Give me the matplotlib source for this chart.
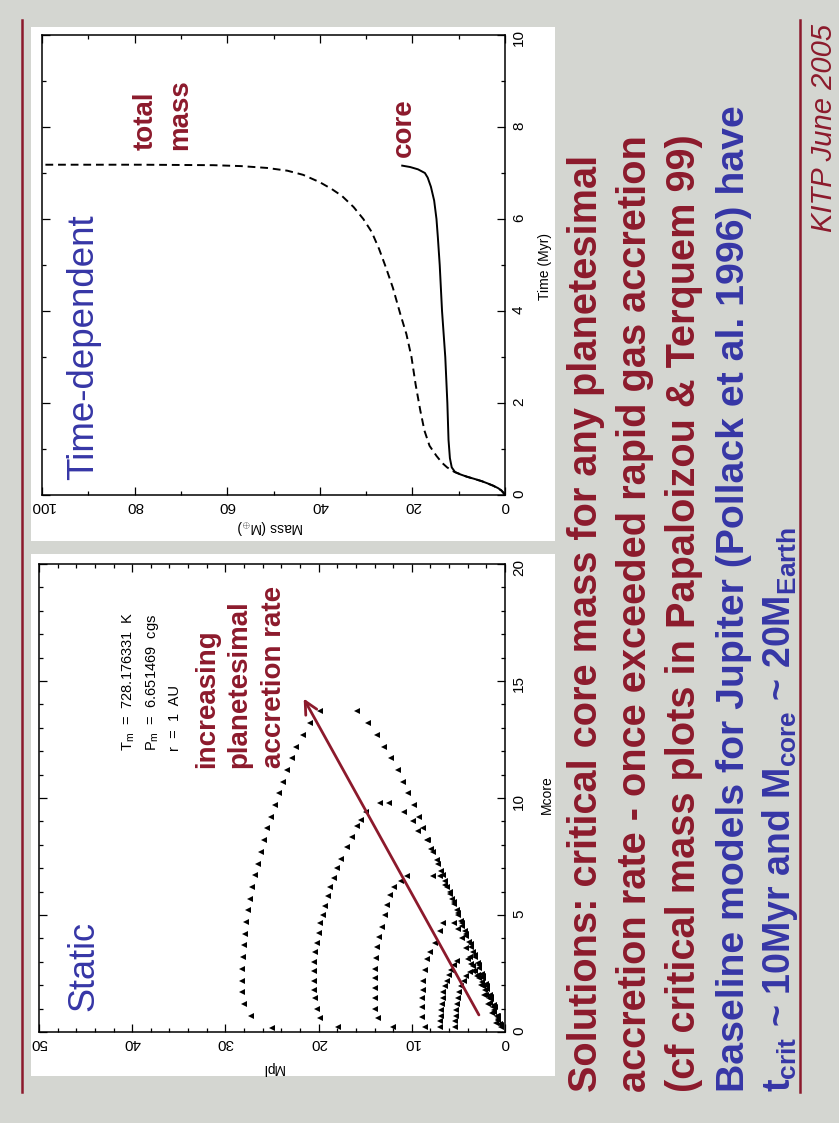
import matplotlib
matplotlib.use("Agg")
import matplotlib.pyplot as plt
from matplotlib.patches import Rectangle
from matplotlib.lines import Line2D

W, H = 839, 1123
plt.rcParams['font.family'] = ['Liberation Sans', 'DejaVu Sans']
plt.rcParams['mathtext.fontset'] = 'custom'
plt.rcParams['mathtext.rm'] = 'Liberation Sans'
plt.rcParams['mathtext.it'] = 'Liberation Sans:italic'
plt.rcParams['mathtext.bf'] = 'Liberation Sans:bold'

BG = '#d4d6d1'
RED = '#8c1a2c'
BLUE = '#3636a6'

# ---- time-dependent model (Myr, Earth masses)
time_core = [0, 0.05, 0.1, 0.15, 0.2, 0.25, 0.3, 0.35, 0.4, 0.45, 0.5, 0.6, 0.8, 1.2,
             2.0, 3.0, 4.0, 5.0, 5.6, 6.0, 6.4, 6.7, 6.9, 7.0, 7.08, 7.13, 7.16]
mass_core = [0, 0.3, 0.8, 1.5, 2.5, 3.7, 5.0, 6.6, 8.3, 9.7, 10.8, 11.5, 11.9, 12.2,
             12.45, 12.9, 13.6, 14.1, 14.5, 14.8, 15.3, 16.0, 16.7, 17.3, 18.8, 20.5, 22.2]
time_total = [0, 0.1, 0.2, 0.3, 0.4, 0.5, 0.6, 0.7, 0.85, 1.07, 1.4, 1.84, 2.4, 3.0, 3.5,
              3.93, 4.5, 4.94, 5.35, 5.72, 6.0, 6.26, 6.5, 6.65, 6.8, 6.96, 7.05, 7.11,
              7.15, 7.17, 7.18, 7.18]
mass_total = [0, 0.8, 2.5, 5.0, 8.3, 10.9, 12.5, 13.6, 14.8, 16.3, 17.4, 18.3, 19.3, 20.2,
              21.3, 22.6, 24.2, 25.7, 27.2, 28.8, 30.6, 32.7, 35.2, 37.4, 40.0, 43.6, 47.0,
              51.4, 57.0, 63.0, 78.6, 100.0]

# ---- static models: (Mpl, Mcore) for each accretion rate
mpl_1 = [25.0, 27.3, 28.0, 28.2, 28.2, 28.2, 28.15, 28.0, 27.9, 27.8, 27.6, 27.4, 27.1, 26.8,
         26.5, 26.2, 25.9, 25.5, 25.1, 24.7, 24.2, 23.8, 23.4, 22.9, 22.4, 21.7, 20.9, 19.9,
         15.9, 14.65, 13.7, 13.0, 12.25, 11.5, 10.9, 10.4, 9.75, 9.2, 8.75, 8.3, 7.7, 7.15,
         6.7, 6.2, 5.7, 5.2, 4.75, 4.3, 3.85, 3.4, 2.95, 2.5, 2.05, 1.6, 1.2, 0.8, 0.4]
mcore_1 = [0.16, 0.7, 1.2, 1.7, 2.2, 2.7, 3.2, 3.7, 4.2, 4.7, 5.2, 5.7, 6.2, 6.7,
           7.2, 7.7, 8.2, 8.7, 9.2, 9.7, 10.2, 10.7, 11.2, 11.7, 12.2, 12.7, 13.2, 13.7,
           13.7, 13.2, 12.7, 12.2, 11.7, 11.2, 10.7, 10.2, 9.7, 9.2, 8.7, 8.2, 7.7, 7.2,
           6.7, 6.2, 5.7, 5.2, 4.75, 4.3, 3.85, 3.4, 2.95, 2.5, 2.05, 1.6, 1.15, 0.7, 0.3]
mpl_2 = [17.9, 19.8, 20.2, 20.4, 20.5, 20.5, 20.5, 20.45, 20.35, 20.2, 20.0, 19.8, 19.55,
         19.3, 19.0, 18.75, 18.4, 18.0, 17.6, 17.0, 16.4, 15.9, 15.5, 14.9,
         13.4, 12.4, 10.8, 9.9, 9.3, 8.4, 7.9, 7.3, 6.85, 6.4, 5.95, 5.5, 5.05, 4.6, 4.15,
         3.7, 3.25, 2.8, 2.35, 1.9, 1.5, 1.1, 0.7]
mcore_2 = [0.23, 0.6, 1.0, 1.45, 1.8, 2.2, 2.6, 3.0, 3.4, 3.8, 4.25, 4.65, 5.0,
           5.4, 5.8, 6.2, 6.6, 7.0, 7.4, 7.9, 8.35, 8.8, 9.05, 9.4,
           9.8, 9.8, 9.4, 9.0, 8.6, 8.2, 7.8, 7.35, 6.9, 6.45, 6.0, 5.55, 5.1, 4.65, 4.2,
           3.75, 3.3, 2.85, 2.4, 1.95, 1.5, 1.05, 0.6]
mpl_3 = [12.0, 13.6, 13.9, 14.0, 14.0, 14.0, 13.9, 13.8, 13.7, 13.5, 13.2, 12.9, 12.7, 12.3,
         11.9, 11.2, 10.5,
         7.7, 7.0, 6.4, 5.95, 5.5, 5.05, 4.6, 4.15, 3.7, 3.25, 2.8, 2.35, 1.95, 1.55, 1.15, 0.75]
mcore_3 = [0.23, 0.58, 1.0, 1.44, 1.87, 2.3, 2.7, 3.15, 3.65, 4.07, 4.5, 5.0, 5.43, 5.85,
           6.2, 6.45, 6.65,
           6.67, 6.67, 6.3, 5.9, 5.45, 5.0, 4.55, 4.1, 3.65, 3.2, 2.75, 2.3, 1.85, 1.4, 0.95, 0.5]
mpl_4 = [8.6, 8.9, 8.9, 8.9, 8.85, 8.75, 8.6, 8.4, 8.0, 7.5, 7.0, 6.6,
         5.5, 5.0, 4.6, 4.2, 3.8, 3.4, 3.0, 2.6, 2.2, 1.8, 1.4, 1.0]
mcore_4 = [0.23, 0.65, 1.08, 1.44, 1.8, 2.2, 2.65, 3.1, 3.4, 3.8, 4.3, 4.65,
           4.65, 4.4, 4.0, 3.6, 3.2, 2.8, 2.4, 2.0, 1.6, 1.2, 0.8, 0.4]
mpl_5 = [7.0, 6.95, 6.9, 6.85, 6.8, 6.7, 6.6, 6.45, 6.25, 6.05, 5.8, 5.5, 5.1,
         4.0, 3.6, 3.2, 2.8, 2.4, 2.0, 1.6, 1.2, 0.8, 0.4]
mcore_5 = [0.2, 0.45, 0.7, 0.95, 1.2, 1.45, 1.7, 1.95, 2.2, 2.45, 2.65, 2.85, 3.05,
           3.1, 2.9, 2.6, 2.3, 1.95, 1.6, 1.25, 0.85, 0.5, 0.2]
mpl_6 = [5.4, 5.35, 5.3, 5.25, 5.15, 5.05, 4.9, 4.7, 4.45, 4.15, 3.8, 3.4,
         2.9, 2.5, 2.1, 1.7, 1.3, 0.9, 0.5]
mcore_6 = [0.2, 0.45, 0.7, 0.95, 1.2, 1.45, 1.7, 1.95, 2.2, 2.4, 2.55, 2.6,
           2.45, 2.15, 1.8, 1.45, 1.05, 0.7, 0.35]
static_mpl = [mpl_1, mpl_2, mpl_3, mpl_4, mpl_5, mpl_6]
static_mcore = [mcore_1, mcore_2, mcore_3, mcore_4, mcore_5, mcore_6]

arrow_tail = (2.8, 0.73)
arrow_head = (21.6, 14.25)


def fx(x):
    return x / W


def fy(y):
    return 1 - y / H


fig = plt.figure(figsize=(W / 100, H / 100), dpi=100, facecolor=BG)

# white panels and red rules
for y0, y1 in [(27, 541), (554, 1076)]:
    fig.add_artist(Rectangle((fx(31), fy(y1)), (555 - 31) / W, (y1 - y0) / H,
                             transform=fig.transFigure, facecolor='white',
                             edgecolor='none', zorder=0))
for x in [21.5, 800]:
    fig.add_artist(Line2D([fx(x), fx(x)], [fy(20), fy(1092)], transform=fig.transFigure,
                          color=RED, lw=1.8))


def style_axes(ax):
    ax.tick_params(which='both', direction='in', top=True, bottom=True, left=True,
                   right=True, labelleft=False, labelright=True, labelbottom=True,
                   width=0.9, colors='black')
    ax.tick_params(which='major', length=6)
    ax.tick_params(which='minor', length=3)
    ax.tick_params(axis='x', labelrotation=180, labelsize=11, pad=3)
    ax.tick_params(axis='y', labelrotation=90, labelsize=11, pad=5)
    for s in ax.spines.values():
        s.set_linewidth(1.1)


# ---- top panel: time-dependent
ax1 = fig.add_axes([fx(42), fy(495), (505 - 42) / W, (495 - 35) / H])
ax1.plot(mass_total, time_total, color='black', lw=1.4, ls=(0, (4, 2.5)))
ax1.plot(mass_core, time_core, color='black', lw=1.4)
ax1.set_xlim(100, 0)
ax1.set_ylim(0, 10)
ax1.set_xticks([0, 20, 40, 60, 80, 100])
ax1.set_xticks([10, 30, 50, 70, 90], minor=True)
ax1.set_yticks([0, 2, 4, 6, 8, 10])
ax1.set_yticks([1, 3, 5, 7, 9], minor=True)
style_axes(ax1)

# ---- bottom panel: static
ax2 = fig.add_axes([fx(39), fy(1032), (505 - 39) / W, (1032 - 564) / H])
for mp, mc in zip(static_mpl, static_mcore):
    ax2.plot(mp, mc, ls='none', marker='<', ms=4.7, mew=0, color='black')
ax2.annotate('', xy=arrow_head, xytext=arrow_tail,
             arrowprops=dict(arrowstyle='->,head_length=0.9,head_width=0.45',
                             color=RED, lw=2, mutation_scale=10, shrinkA=0, shrinkB=0))
ax2.set_xlim(50, 0)
ax2.set_ylim(0, 20)
ax2.set_xticks([0, 10, 20, 30, 40, 50])
ax2.set_xticks([x for x in range(2, 50, 2) if x % 10], minor=True)
ax2.set_yticks([0, 5, 10, 15, 20])
ax2.set_yticks([x for x in range(1, 20) if x % 5], minor=True)
style_axes(ax2)

# axis labels
fig.text(fx(270), fy(527), r'Mass (M$_{\oplus}$)', rotation=180, ha='center', va='center',
         fontsize=10)
fig.text(fx(545), fy(266), 'Time (Myr)', rotation=90, ha='center', va='center', fontsize=10)
fig.text(fx(273), fy(1068), 'Mpl', rotation=180, ha='center', va='center', fontsize=10)
fig.text(fx(547), fy(795), 'Mcore', rotation=90, ha='center', va='center', fontsize=10)


def rtext(x, y, s, **kw):
    fig.text(fx(x), fy(y), s, rotation=90, rotation_mode='anchor', ha='left',
             va='baseline', **kw)


# panel titles and annotations
rtext(93, 480, 'Time-dependent', fontsize=26.5, color=BLUE)
rtext(93, 1011, 'Static', fontsize=26, color=BLUE)
rtext(153, 150, 'total', fontsize=20, fontweight='bold', color=RED)
rtext(187, 150, 'mass', fontsize=20, fontweight='bold', color=RED)
rtext(411, 157, 'core', fontsize=20, fontweight='bold', color=RED)
rtext(214, 768, 'increasing', fontsize=20, fontweight='bold', color=RED)
rtext(246, 768, 'planetesimal', fontsize=20, fontweight='bold', color=RED)
rtext(281, 768, 'accretion rate', fontsize=20, fontweight='bold', color=RED)
rtext(133, 751, r'T$_{\rm m}$  =  728.176331  K', fontsize=10.5)
rtext(156, 751, r'P$_{\rm m}$  =  6.651469  cgs', fontsize=10.5)
rtext(179, 751, r'r  =  1  AU', fontsize=10.5)

# slide text
rtext(597, 1092, 'Solutions: critical core mass for any planetesimal',
      fontsize=28.6, fontweight='bold', color=RED)
rtext(646, 1092, 'accretion rate - once exceeded rapid gas accretion',
      fontsize=28.6, fontweight='bold', color=RED)
rtext(695, 1092, '(cf critical mass plots in Papaloizou & Terquem 99)',
      fontsize=28.6, fontweight='bold', color=RED)
rtext(744, 1092, 'Baseline models for Jupiter (Pollack et al. 1996) have',
      fontsize=28.3, fontweight='bold', color=BLUE)
rtext(790, 1092, r't$_{\mathbf{crit}}$ ~ 10Myr and M$_{\mathbf{core}}$ ~ 20M$_{\mathbf{Earth}}$',
      fontsize=27, fontweight='bold', color=BLUE)
rtext(832, 232, 'KITP June 2005', fontsize=21, style='italic', color=RED)

fig.savefig('out.png', dpi=100, facecolor=BG)
